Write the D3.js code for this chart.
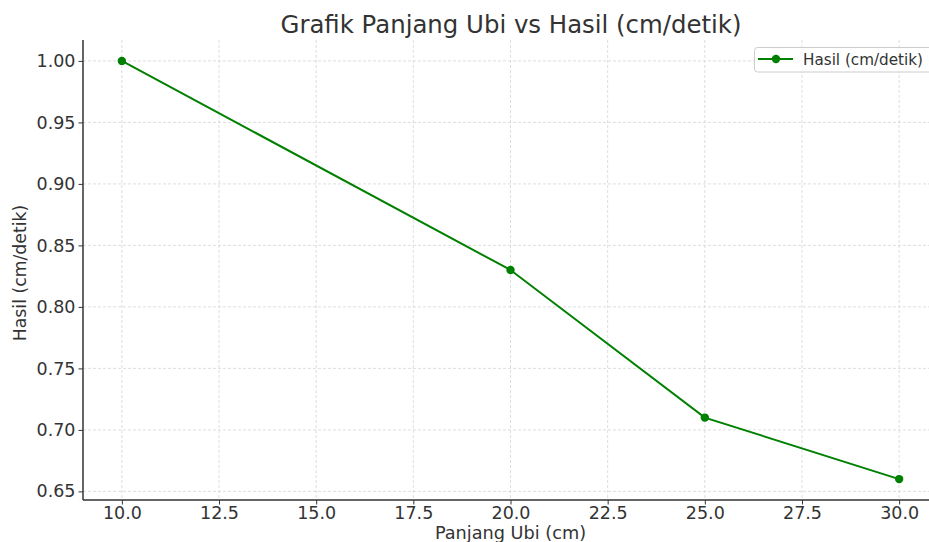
<!DOCTYPE html>
<html><head><meta charset="utf-8">
<script src="https://cdn.jsdelivr.net/npm/d3@7"></script>
<style>body{margin:0;background:#fff}svg{display:block}text{font-family:"DejaVu Sans",sans-serif;fill:#333}</style>
</head><body><svg id="c" width="929" height="542"></svg>
<script>
const panjang = [10, 20, 25, 30];
const hasil = [1.00, 0.83, 0.71, 0.66];
const xTicks = [10, 12.5, 15, 17.5, 20, 22.5, 25, 27.5, 30];
const yTicks = [0.65, 0.70, 0.75, 0.80, 0.85, 0.90, 0.95, 1.00];
const title = "Grafik Panjang Ubi vs Hasil (cm/detik)";
const xLabel = "Panjang Ubi (cm)";
const yLabel = "Hasil (cm/detik)";
const seriesName = "Hasil (cm/detik)";

const svg = d3.select("#c");
const L = 83, R = 938, T = 40, B = 500;
const x = d3.scaleLinear().domain([9, 31]).range([L, R]);
const y = d3.scaleLinear().domain([0.643, 1.017]).range([B, T]);

// grid
const g = svg.append("g");
g.selectAll(".gx").data(xTicks).join("line").attr("x1", d => x(d)).attr("x2", d => x(d))
  .attr("y1", T).attr("y2", B).attr("stroke", "#d6d6d6").attr("stroke-width", 0.8).attr("stroke-dasharray", "3,2");
g.selectAll(".gy").data(yTicks).join("line").attr("y1", d => y(d)).attr("y2", d => y(d))
  .attr("x1", L).attr("x2", R).attr("stroke", "#d6d6d6").attr("stroke-width", 0.8).attr("stroke-dasharray", "3,2");

// axes
const xa = svg.append("g").attr("transform", `translate(0,${B})`)
  .call(d3.axisBottom(x).tickValues(xTicks).tickFormat(d3.format(".1f")).tickSizeOuter(0).tickSize(4.5).tickPadding(2.5));
const ya = svg.append("g").attr("transform", `translate(${L},0)`)
  .call(d3.axisLeft(y).tickValues(yTicks).tickFormat(d3.format(".2f")).tickSizeOuter(0).tickSize(4.5).tickPadding(3));
[xa, ya].forEach(a => {
  a.select(".domain").remove();
  a.selectAll(".tick line").attr("stroke", "#333").attr("stroke-width", 1);
  a.selectAll(".tick text").attr("font-size", 17.5).attr("fill", "#333").style("font-family", '"DejaVu Sans",sans-serif');
});
svg.append("line").attr("x1", L).attr("x2", R).attr("y1", B).attr("y2", B).attr("stroke", "#333").attr("stroke-width", 1.5);
svg.append("line").attr("x1", L).attr("x2", L).attr("y1", T).attr("y2", B).attr("stroke", "#333").attr("stroke-width", 1.5);

// line
const line = d3.line().x((d, i) => x(panjang[i])).y(d => y(d));
svg.append("path").datum(hasil).attr("d", line).attr("fill", "none").attr("stroke", "green").attr("stroke-width", 2);
svg.selectAll(".pt").data(hasil).join("circle").attr("cx", (d, i) => x(panjang[i])).attr("cy", d => y(d))
  .attr("r", 4.2).attr("fill", "green");

// labels
svg.append("text").attr("x", (L + R) / 2 + 0.5).attr("y", 33).attr("text-anchor", "middle").attr("font-size", 24.4).text(title);
svg.append("text").attr("x", (L + R) / 2).attr("y", 538.5).attr("text-anchor", "middle").attr("font-size", 17.7).text(xLabel);
svg.append("text").attr("transform", `translate(26,${(T + B) / 2 + 3}) rotate(-90)`).attr("text-anchor", "middle").attr("font-size", 17.3).text(yLabel);

// legend
const lg = svg.append("g");
lg.append("rect").attr("x", 754.5).attr("y", 47.5).attr("width", 185).attr("height", 24.5).attr("rx", 3)
  .attr("fill", "#fff").attr("fill-opacity", 0.8).attr("stroke", "#ccc").attr("stroke-width", 1);
lg.append("line").attr("x1", 758).attr("x2", 793).attr("y1", 59).attr("y2", 59).attr("stroke", "green").attr("stroke-width", 2);
lg.append("circle").attr("cx", 776).attr("cy", 59).attr("r", 4.2).attr("fill", "green");
lg.append("text").attr("x", 803).attr("y", 64.5).attr("font-size", 15.2).text(seriesName);
</script></body></html>
